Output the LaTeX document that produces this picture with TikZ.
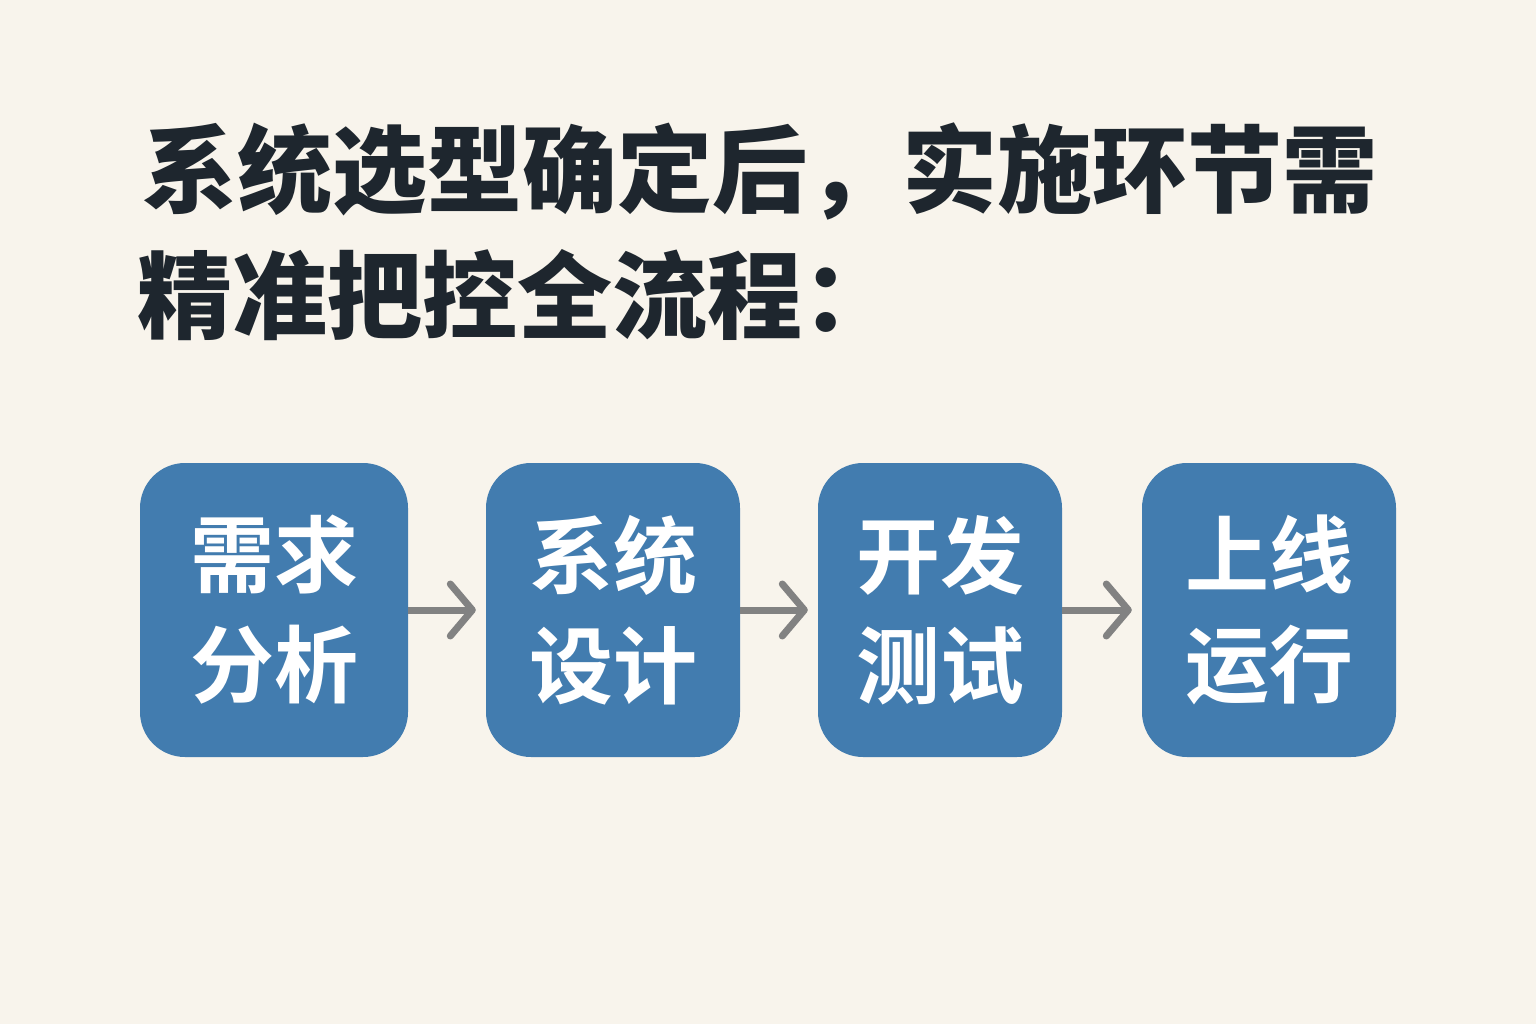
\documentclass[tikz,border=0pt]{standalone}
\usepackage{fontspec}
\newfontfamily\cjk{Noto Sans CJK SC}[BoldFont={Noto Sans CJK SC Black}]
\newfontfamily\cjkb{Noto Sans CJK SC}[BoldFont={Noto Sans CJK SC Bold}]
\usetikzlibrary{arrows.meta}
\definecolor{bgcol}{RGB}{248,244,236}
\definecolor{boxcol}{RGB}{66,124,175}
\definecolor{titlecol}{RGB}{30,38,46}
\definecolor{arrcol}{RGB}{130,130,130}
\tikzset{
  stepbox/.style={fill=boxcol, draw=none, rounded corners=45pt, minimum height=294pt,
    text=white, align=center, font=\cjkb\bfseries\fontsize{84}{110}\selectfont, inner sep=0pt},
  titletext/.style={text=titlecol, font=\cjk\bfseries\fontsize{95}{125}\selectfont, inner sep=0pt, anchor=base west},
  flow/.style={draw=arrcol, line width=7pt, -{Straight Barb[length=22pt,width=52pt,line cap=round,line join=round]}, shorten >=10pt}
}
\begin{document}
\begin{tikzpicture}[x=1pt,y=-1pt]
\fill[bgcol] (0,0) rectangle (1536,1024);
\useasboundingbox (0,0) rectangle (1536,1024);
\node[titletext] (t1) at (142,206) {系统选型确定后，实施环节需};
\node[titletext] (t2) at (137,331) {精准把控全流程：};
\node[stepbox, minimum width=268pt] (b1) at (274,610) {需求\\分析};
\node[stepbox, minimum width=254pt] (b2) at (613,610) {系统\\设计};
\node[stepbox, minimum width=244pt] (b3) at (940,610) {开发\\测试};
\node[stepbox, minimum width=254pt] (b4) at (1269,610) {上线\\运行};
\draw[flow] (b1.east) -- (b2.west);
\draw[flow] (b2.east) -- (b3.west);
\draw[flow] (b3.east) -- (b4.west);
\end{tikzpicture}
\end{document}
